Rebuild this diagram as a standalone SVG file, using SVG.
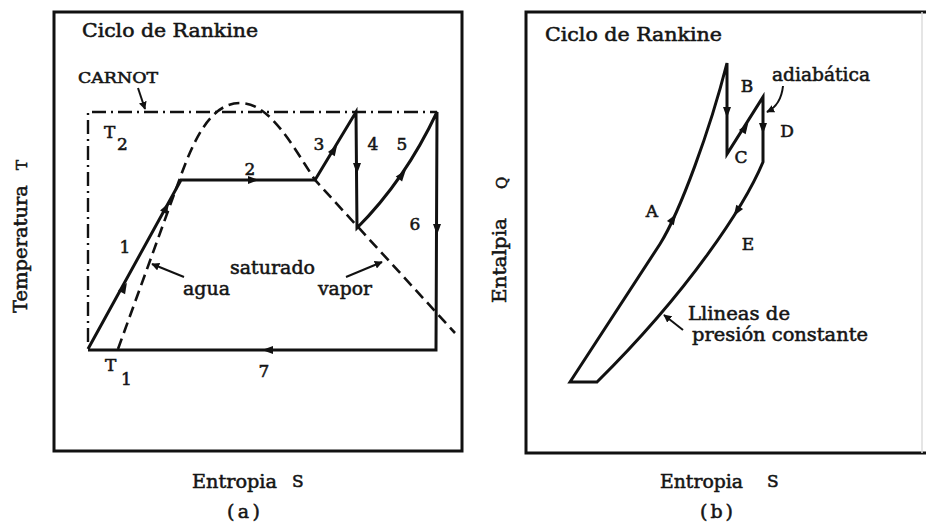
<svg xmlns="http://www.w3.org/2000/svg" xmlns:xlink="http://www.w3.org/1999/xlink" width="926" height="529" viewBox="0 0 926 529">
<style>
  .frame{fill:none;stroke:#111;stroke-width:3}
  .cyc{fill:none;stroke:#111;stroke-width:3;stroke-linejoin:miter}
  .dome{fill:none;stroke:#111;stroke-width:2.6;stroke-dasharray:11 6}
  .carnot{fill:none;stroke:#111;stroke-width:2.4;stroke-dasharray:14 5 2 5}
  .ptr{fill:none;stroke:#111;stroke-width:2}
  .t{font-family:"DejaVu Serif","Liberation Serif",serif;font-size:19px;fill:#151515;stroke:#151515;stroke-width:0.55}
  .s{font-size:17px}
  .m{text-anchor:middle}
  .tri{fill:#111}
</style>
<defs>
  <path id="tri" d="M6,0 L-5,-4 L-5,4 Z"/>
  <marker id="pa" viewBox="0 0 10 10" refX="9" refY="5" markerWidth="4" markerHeight="4" orient="auto" markerUnits="strokeWidth">
    <path d="M0,0 L10,5 L0,10 Z" fill="#111"/>
  </marker>
</defs>

<!-- Panel (a) -->
<g id="panel-a">
  <rect class="frame" x="54" y="12" width="408" height="439"/>
  <text class="t" x="82" y="37" textLength="176" lengthAdjust="spacingAndGlyphs">Ciclo de Rankine</text>
</g>
<g id="carnot">
  <path class="carnot" d="M88,342 L88,112 L437,112"/>
  <text class="t" x="78" y="83" style="font-size:15px" textLength="80" lengthAdjust="spacingAndGlyphs">CARNOT</text>
</g>
<g id="dome">
  <path class="dome" d="M118,349 L180,178 C193,142 210,103 240,103 C270,103 292,145 315,180 L455,333"/>
</g>
<g id="cycle-a">
  <path class="cyc" d="M88,349 L181,180 L315,180 L356,112 L357,228 Q405,180 437,112 L436,350 L88,350"/>
</g>
<g id="connectors">
  <g class="tri">
    <use xlink:href="#tri" transform="translate(124,288) rotate(-61)"/>
    <use xlink:href="#tri" transform="translate(166,208) rotate(-61)"/>
    <use xlink:href="#tri" transform="translate(253,180)"/>
    <use xlink:href="#tri" transform="translate(334,150) rotate(-58)"/>
    <use xlink:href="#tri" transform="translate(357,168) rotate(90)"/>
    <use xlink:href="#tri" transform="translate(402,175) rotate(-52)"/>
    <use xlink:href="#tri" transform="translate(437,229) rotate(90)"/>
    <use xlink:href="#tri" transform="translate(268,350) rotate(180)"/>
    <use xlink:href="#tri" transform="translate(673,219) rotate(-58)"/>
    <use xlink:href="#tri" transform="translate(727,112) rotate(90)"/>
    <use xlink:href="#tri" transform="translate(745,128) rotate(-57)"/>
    <use xlink:href="#tri" transform="translate(763,128) rotate(90)"/>
    <use xlink:href="#tri" transform="translate(737,211) rotate(122)"/>
  </g>
  <path class="ptr" d="M138,88 L145,109" marker-end="url(#pa)"/>
  <path class="ptr" d="M184,277 L152,264" marker-end="url(#pa)"/>
  <path class="ptr" d="M346,277 L382,262" marker-end="url(#pa)"/>
  <path class="ptr" d="M783,86 Q781,105 767,112" marker-end="url(#pa)"/>
  <path class="ptr" d="M683,330 L664,315" marker-end="url(#pa)"/>
</g>
<g id="labels-a">
  <text class="t s" x="104" y="138">T</text>
  <text class="t s" x="117" y="150">2</text>
  <text class="t s m" x="250" y="175">2</text>
  <text class="t s m" x="319" y="150">3</text>
  <text class="t s m" x="373" y="150">4</text>
  <text class="t s m" x="402" y="150">5</text>
  <text class="t s m" x="415" y="230">6</text>
  <text class="t s m" x="125" y="253">1</text>
  <text class="t" x="230" y="274" textLength="85" lengthAdjust="spacingAndGlyphs">saturado</text>
  <text class="t" x="183" y="295" textLength="47" lengthAdjust="spacingAndGlyphs">agua</text>
  <text class="t" x="318" y="295" textLength="54" lengthAdjust="spacingAndGlyphs">vapor</text>
  <text class="t s" x="105" y="371">T</text>
  <text class="t s" x="121" y="385">1</text>
  <text class="t s m" x="264" y="377">7</text>
  <text class="t" x="192" y="488" textLength="85" lengthAdjust="spacingAndGlyphs">Entropia</text>
  <text class="t" x="292" y="487" style="font-size:17px">S</text>
  <text class="t" x="227" y="518" textLength="33" lengthAdjust="spacing">(a)</text>
  <text class="t" transform="translate(27,313) rotate(-90)" textLength="128" lengthAdjust="spacingAndGlyphs">Temperatura</text>
  <text class="t" transform="translate(27,170) rotate(-90)" style="font-size:15px">T</text>
</g>

<!-- Panel (b) -->
<g id="panel-b">
  <path class="frame" d="M926,12 L526,12 L526,453 L926,453"/>
  <path d="M922,12 L922,453" stroke="#ddd" stroke-width="1.5" fill="none"/>
  <text class="t" x="545" y="41" textLength="177" lengthAdjust="spacingAndGlyphs">Ciclo de Rankine</text>
</g>
<g id="cycle-b">
  <path class="cyc" d="M570,382 L660,244 C680,212 710,130 727,63 L727,154 L763,97 L763,162 C745,205 690,290 597,382 Z"/>
</g>
<g id="labels-b">
  <text class="t" x="772" y="81" textLength="98" lengthAdjust="spacingAndGlyphs">adiabática</text>
  <text class="t s m" x="747" y="92">B</text>
  <text class="t s m" x="741" y="163">C</text>
  <text class="t s m" x="787" y="137">D</text>
  <text class="t s m" x="652" y="217">A</text>
  <text class="t s m" x="748" y="250">E</text>
  <text class="t" x="688" y="320" textLength="102" lengthAdjust="spacingAndGlyphs">Llineas de</text>
  <text class="t" x="692" y="341" textLength="176" lengthAdjust="spacingAndGlyphs">presión constante</text>
  <text class="t" x="660" y="488" textLength="83" lengthAdjust="spacingAndGlyphs">Entropia</text>
  <text class="t" x="767" y="487" style="font-size:17px">S</text>
  <text class="t" x="700" y="518" textLength="33" lengthAdjust="spacing">(b)</text>
  <text class="t" transform="translate(506,303) rotate(-90)" textLength="85" lengthAdjust="spacingAndGlyphs">Entalpia</text>
  <text class="t" transform="translate(507,189) rotate(-90)" style="font-size:15px">Q</text>
</g>
</svg>
